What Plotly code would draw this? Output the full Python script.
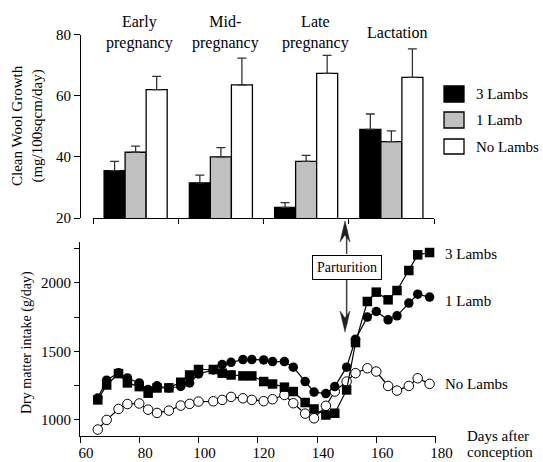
import plotly.graph_objects as go

W, H = 543, 462
def px(x): return x / W
def py(y): return 1 - y / H

# ---------------- Data ----------------
periods = ["Early<br>pregnancy", "Mid-<br>pregnancy", "Late<br>pregnancy", "Lactation"]
groups = ["3 Lambs", "1 Lamb", "No Lambs"]
wool_3 = [35.5, 31.5, 23.5, 49.0]
wool_3_err = [3.0, 2.5, 1.5, 5.0]
wool_1 = [41.5, 40.0, 38.5, 45.0]
wool_1_err = [2.0, 3.0, 2.0, 3.5]
wool_0 = [62.0, 63.5, 67.3, 66.0]
wool_0_err = [4.3, 8.8, 5.9, 9.3]

days = [66, 69, 73, 76, 80, 83, 86, 90, 94, 97, 100, 105, 108, 111, 115, 118, 122,
        125, 129, 132, 136, 139, 143, 146, 150, 153, 157, 160, 164, 167, 171, 174, 178]
intake_3 = [1146, 1255, 1338, 1270, 1243, 1195, 1233, 1234, 1275, 1328, 1368, 1368, 1341,
            1328, 1321, 1321, 1280, 1262, 1239, 1207, 1127, 1080, 1036, 1049, 1219, 1564,
            1864, 1932, 1876, 1944, 2090, 2204, 2221]
intake_1 = [1160, 1290, 1345, 1306, 1270, 1222, 1249, 1233, 1244, 1270, 1335, 1365, 1404,
            1420, 1440, 1440, 1438, 1426, 1426, 1385, 1280, 1203, 1192, 1243, 1385, 1589,
            1750, 1791, 1730, 1759, 1852, 1917, 1896]
intake_0 = [930, 1000, 1080, 1116, 1120, 1075, 1051, 1068, 1105, 1117, 1134, 1136, 1146,
            1168, 1158, 1146, 1137, 1151, 1182, 1122, 1046, 1012, 1103, 1207, 1280, 1341,
            1377, 1353, 1248, 1214, 1248, 1304, 1263]
parturition_day = 150

FONT = "Liberation Serif"
bar_colors = ["#000000", "#c0c0c0", "#ffffff"]
xpos = [i + 0.5 for i in range(len(periods))]

fig = go.Figure()
for name, vals, errs, col in zip(groups, [wool_3, wool_1, wool_0],
                                 [wool_3_err, wool_1_err, wool_0_err], bar_colors):
    fig.add_trace(go.Bar(
        x=xpos, y=vals, name=name, xaxis="x", yaxis="y",
        marker=dict(color=col, line=dict(color="#000000", width=1.3)),
        error_y=dict(type="data", array=errs, arrayminus=[0] * len(errs), symmetric=False,
                     color="#333333", thickness=1.3, width=4.5),
        showlegend=False))

line_styles = [
    ("No Lambs", intake_0, dict(symbol="circle", size=9.5, color="#ffffff", line=dict(color="#000", width=1))),
    ("3 Lambs", intake_3, dict(symbol="square", size=9.5, color="#000000", line=dict(color="#000", width=0))),
    ("1 Lamb", intake_1, dict(symbol="circle", size=9.5, color="#000000", line=dict(color="#000", width=0))),
]
for name, vals, mk in line_styles:
    fig.add_trace(go.Scatter(
        x=days, y=vals, name=name, xaxis="x2", yaxis="y2", mode="lines+markers",
        line=dict(color="#000000", width=1.2), marker=mk, showlegend=False, cliponaxis=False))

axis_common = dict(showline=True, linecolor="#000000", linewidth=1, ticks="outside",
                   tickcolor="#000000", tickwidth=1, showgrid=False, zeroline=False,
                   automargin=False,
                   tickfont=dict(family=FONT, size=15, color="#000000"))

fig.update_layout(
    width=W, height=H, margin=dict(l=0, r=0, t=0, b=0, autoexpand=False),
    paper_bgcolor="white", plot_bgcolor="white", showlegend=False,
    barmode="group", bargap=0.26, bargroupgap=0,
    font=dict(family=FONT, size=15, color="#000000"),
    xaxis=dict(domain=[px(93), px(434)], range=[0, 4], anchor="y",
               tickvals=[0, 1, 2, 3, 4], showticklabels=False, ticklen=5, **axis_common),
    yaxis=dict(domain=[py(218), py(34.5)], range=[20, 80], anchor="free", position=px(80),
               tickvals=[20, 40, 60, 80], ticklen=6, **axis_common),
    xaxis2=dict(domain=[px(80), px(435.5)], range=[60, 180], anchor="y2",
                tickvals=[60, 80, 100, 120, 140, 160, 180], ticklen=6, ticklabelshift=6,
                ticklabelstandoff=-3, **axis_common),
    yaxis2=dict(domain=[py(435.7), py(241.7)], range=[885, 2300], anchor="x2",
                tickvals=[1000, 1250, 1500, 1750, 2000, 2250],
                ticktext=["1000", "", "1500", "", "2000", ""], ticklen=5, **axis_common),
)

ann = []
# period labels
for lab, cx in zip(periods, [139, 225, 315, 397]):
    ann.append(dict(text=lab, x=px(cx), y=py(33), xref="paper", yref="paper",
                    showarrow=False, xanchor="center", yanchor="middle",
                    font=dict(family=FONT, size=16)))
# axis titles
ann.append(dict(text="Clean Wool Growth<br>(mg/100sqcm/day)", x=px(28), y=py(126),
                xref="paper", yref="paper", showarrow=False, textangle=-90,
                xanchor="center", yanchor="middle", font=dict(family=FONT, size=15)))
ann.append(dict(text="Dry matter intake (g/day)", x=px(27), y=py(343),
                xref="paper", yref="paper", showarrow=False, textangle=-90,
                xanchor="center", yanchor="middle", font=dict(family=FONT, size=14)))
ann.append(dict(text="Days after", x=px(465), y=py(436), xref="paper",
                yref="paper", showarrow=False, xanchor="left", yanchor="middle",
                font=dict(family=FONT, size=15)))
ann.append(dict(text="conception", x=px(465), y=py(452), xref="paper",
                yref="paper", showarrow=False, xanchor="left", yanchor="middle",
                font=dict(family=FONT, size=15)))
# line end labels
for name, yy in zip(["3 Lambs", "1 Lamb", "No Lambs"], [254, 301, 384]):
    ann.append(dict(text=name, x=px(443), y=py(yy), xref="paper", yref="paper",
                    showarrow=False, xanchor="left", yanchor="middle",
                    font=dict(family=FONT, size=15)))
# legend labels
for name, yy in zip(groups, [94, 120, 147]):
    ann.append(dict(text=name, x=px(474), y=py(yy), xref="paper", yref="paper",
                    showarrow=False, xanchor="left", yanchor="middle",
                    font=dict(family=FONT, size=15)))
# parturition box
ann.append(dict(text="Parturition", x=parturition_day, y=py(267), xref="x2", yref="paper",
                showarrow=False, bgcolor="white", bordercolor="#000000", borderwidth=1,
                xanchor="center", yanchor="middle",
                borderpad=4, font=dict(family=FONT, size=14)))
fig.update_layout(annotations=ann)

shapes = []
# legend swatches
for col, (y0, y1) in zip(bar_colors, [(86, 102), (112, 128), (139, 154)]):
    shapes.append(dict(type="rect", xref="paper", yref="paper", x0=px(444), x1=px(464),
                       y0=py(y1), y1=py(y0), fillcolor=col, line=dict(color="#000", width=1.3)))
# parturition arrow lines
ac = "#404040"
shapes.append(dict(type="line", xref="x2", yref="paper", x0=parturition_day, x1=parturition_day,
                   y0=py(230), y1=py(254), line=dict(color=ac, width=1.5)))
shapes.append(dict(type="line", xref="x2", yref="paper", x0=parturition_day, x1=parturition_day,
                   y0=py(280), y1=py(324), line=dict(color=ac, width=1.5)))
fig.update_layout(shapes=shapes)

# arrowheads as paper-space paths
def head(tipy, direction):
    xc = 345.0
    d = 1 if direction == "up" else -1
    pts = [(xc, tipy), (xc - 5, tipy + d * 21), (xc, tipy + d * 14), (xc + 5, tipy + d * 21)]
    path = "M " + " L ".join(f"{px(a):.5f},{py(b):.5f}" for a, b in pts) + " Z"
    return dict(type="path", xref="paper", yref="paper", path=path, fillcolor="#202020",
                line=dict(color="#202020", width=0.5))
fig.add_shape(head(221, "up"))
fig.add_shape(head(332, "down"))

fig.write_html("out.html", config={"displayModeBar": False},
               post_script="document.body.style.margin='0';document.body.style.overflow='hidden';")
